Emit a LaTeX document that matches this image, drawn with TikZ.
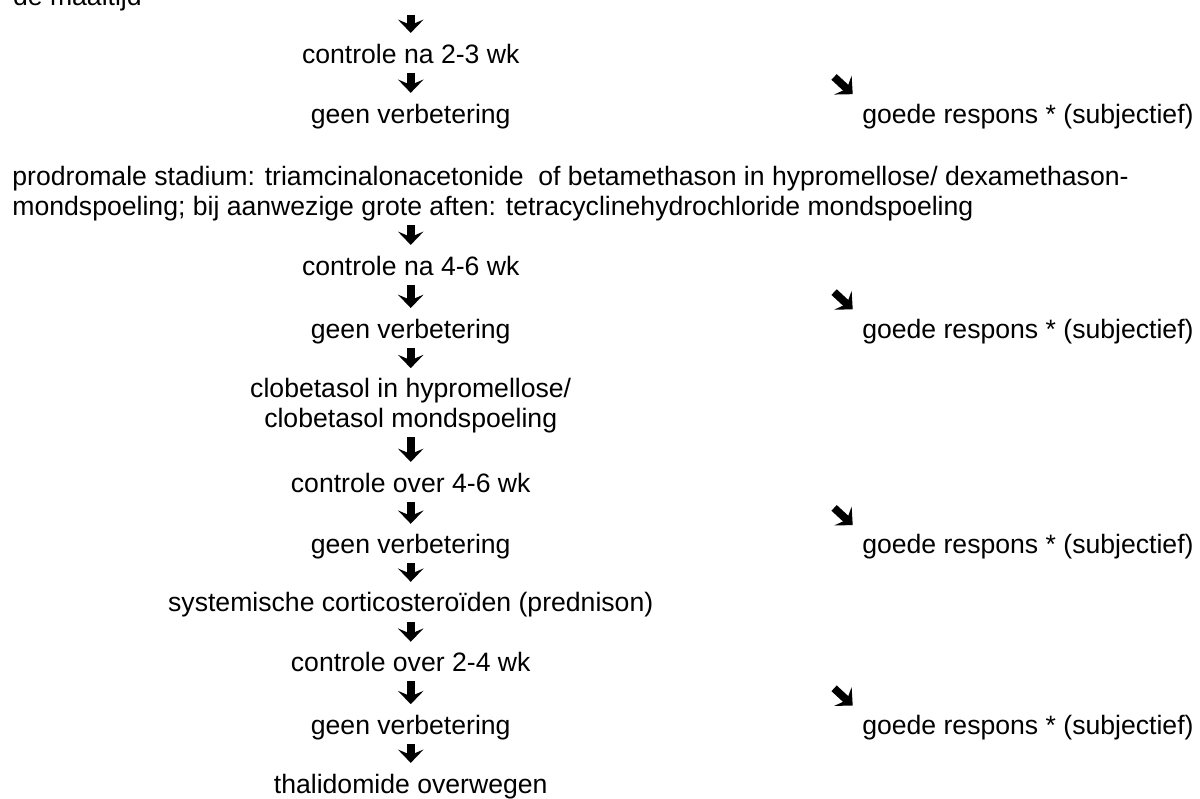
\documentclass[tikz,border=0pt]{standalone}
\usepackage{fontspec}
\setmainfont{Liberation Sans}
\usetikzlibrary{arrows.meta}

\tikzset{
	txt/.style={inner sep=0pt, font=\fontsize{12}{13.5}\selectfont, text height=9pt, text depth=2.5pt},
	blok/.style={inner sep=0pt, font=\fontsize{12}{13.5}\selectfont},
	dnarrow/.style={line width=3.5pt, -{Stealth[length=6pt,width=11.5pt,inset=2.4pt]}, shorten <=1.6pt, shorten >=4.4pt},
	diagarrow/.style={line width=3.5pt, -{Stealth[length=6pt,width=11.5pt,inset=2.4pt]}, shorten >=5.6pt}
}

\begin{document}
\begin{tikzpicture}
			%%%%% START %%%%%
			\useasboundingbox (0, 0) rectangle (19.02, 12.65);
			
			\node[txt, anchor=base west] (dm) at (0.2, 12.57) {de maaltijd};
			\node[txt, anchor=base] (ctrl1) at (6.51, 11.65) {controle na 2-3 wk};
			\node[txt, anchor=base] (geen1) at (6.51, 10.70) {geen verbetering};
			\node[txt, anchor=base west] (goed1) at (13.66, 10.70) {goede respons * (subjectief)};
			
			\node[blok, anchor=north west, align=left] (prod) at (0.19, 10.02) {prodromale stadium: triamcinalonacetonide\ \ of betamethason in hypromellose/ dexamethason-\\mondspoeling; bij aanwezige grote aften: tetracyclinehydrochloride mondspoeling};
			
			\node[txt, anchor=base] (ctrl2) at (6.51, 8.29) {controle na 4-6 wk};
			\node[txt, anchor=base] (geen2) at (6.51, 7.29) {geen verbetering};
			\node[txt, anchor=base west] (goed2) at (13.66, 7.29) {goede respons * (subjectief)};
			
			\node[blok, anchor=north, align=center] (clob) at (6.51, 6.66) {clobetasol in hypromellose/\\clobetasol mondspoeling};
			
			\node[txt, anchor=base] (ctrl3) at (6.51, 4.85) {controle over 4-6 wk};
			\node[txt, anchor=base] (geen3) at (6.51, 3.87) {geen verbetering};
			\node[txt, anchor=base west] (goed3) at (13.66, 3.87) {goede respons * (subjectief)};
			
			\node[txt, anchor=base] (syst) at (6.51, 2.95) {systemische corticosteroïden (prednison)};
			\node[txt, anchor=base] (ctrl4) at (6.51, 2.00) {controle over 2-4 wk};
			\node[txt, anchor=base] (geen4) at (6.51, 1.01) {geen verbetering};
			\node[txt, anchor=base west] (goed4) at (13.66, 1.01) {goede respons * (subjectief)};
			\node[txt, anchor=base] (thal) at (6.51, 0.08) {thalidomide overwegen};
			
			% down arrows
			\draw[dnarrow] (ctrl1.north |- dm.south) -- (ctrl1.north);
			\draw[dnarrow] (ctrl1) -- (geen1);
			\draw[dnarrow] (ctrl2.north |- prod.south) -- (ctrl2.north);
			\draw[dnarrow] (ctrl2) -- (geen2);
			\draw[dnarrow] (geen2) -- (clob);
			\draw[dnarrow] (clob) -- (ctrl3);
			\draw[dnarrow] (ctrl3) -- (geen3);
			\draw[dnarrow] (geen3) -- (syst);
			\draw[dnarrow] (syst) -- (ctrl4);
			\draw[dnarrow] (ctrl4) -- (geen4);
			\draw[dnarrow] (geen4) -- (thal);
			
			% slanted arrows to the good responses
			\coordinate (d1) at ([shift={(-0.44, 0.73)}]goed1.base west);
			\coordinate (d2) at ([shift={(-0.44, 0.73)}]goed2.base west);
			\coordinate (d3) at ([shift={(-0.44, 0.73)}]goed3.base west);
			\coordinate (d4) at ([shift={(-0.44, 0.73)}]goed4.base west);
			\draw[diagarrow] (d1) -- (goed1.north west);
			\draw[diagarrow] (d2) -- (goed2.north west);
			\draw[diagarrow] (d3) -- (goed3.north west);
			\draw[diagarrow] (d4) -- (goed4.north west);
			%%%%% END %%%%%
\end{tikzpicture}
\end{document}
